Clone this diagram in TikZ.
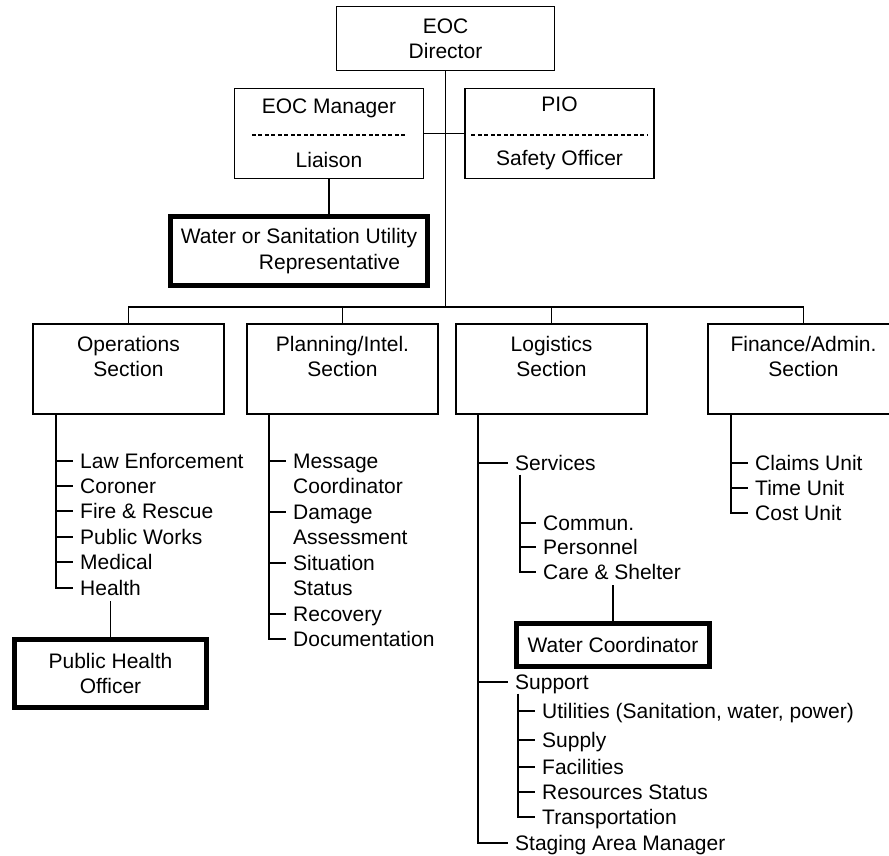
\documentclass[tikz,border=0pt]{standalone}
\usepackage{fontspec}
\setmainfont{Liberation Sans}
\usetikzlibrary{positioning,calc}
\tikzset{
    box/.style={draw,line width=1.2pt,align=center,inner sep=0pt},
    heavybox/.style={draw,line width=5pt,align=center,inner sep=0pt},
    secbox/.style={draw,line width=1.2pt,align=center,inner sep=0pt,minimum width=191pt,minimum height=90pt},
    item/.style={anchor=west,inner xsep=5pt,inner ysep=0pt,text height=15pt,text depth=0pt},
    link/.style={-,line width=1.6pt},
    tick/.style={-,line width=1.6pt,shorten >=2pt},
    sepline/.style={line width=1.4pt,dash pattern=on 4pt off 2.5pt},
}
\begin{document}
\begin{tikzpicture}[x=1pt,y=-1pt, every node/.style={font=\fontsize{21}{25.3}\selectfont}]
                \useasboundingbox (0,0) rectangle (889,856);
                \clip (0,0) rectangle (889,856);
% --- Top of the chart ---
                \node[box,minimum width=218pt,minimum height=64pt] (dir) at (445.5,38.5) {EOC\\Director};
                \node[box,minimum width=189pt,minimum height=90pt] (mgr) at (329,133.5) {EOC Manager\\[28.7pt]Liaison};
                \node[box,minimum width=189pt,minimum height=90pt] (pio) at (559.5,133.5) {PIO\\[28.7pt]Safety Officer};
                \draw[sepline] ([xshift=18pt,yshift=-1.5pt]mgr.west) -- ([xshift=-17pt,yshift=-1.5pt]mgr.east);
                \draw[sepline] ([xshift=7pt,yshift=-1.5pt]pio.west) -- ([xshift=-7pt,yshift=-1.5pt]pio.east);
                \node[heavybox,align=left,minimum width=257pt,minimum height=69pt] (util) at (299,251) {Water or Sanitation Utility\\\hspace*{78pt}Representative};
% Links at the top
                \coordinate (bus) at (445.5,307);
                \draw[link] (dir.south) -- (bus);
                \draw[link] (mgr.east) -- (pio.west);
                \draw[link] (mgr.south) -- (mgr.south |- util.north);
% --- Sections ---
                \node[secbox] (ops) at (128.5,369) {Operations\\Section\\\mbox{}};
                \node[secbox] (plan) at (342.5,369) {Planning/Intel.\\Section\\\mbox{}};
                \node[secbox] (logi) at (551.5,369) {Logistics\\Section\\\mbox{}};
                \node[secbox] (fin) at (803.5,369) {Finance/Admin.\\Section\\\mbox{}};
                \draw[link] (ops.north) |- (bus) -| (fin.north);
                \draw[link] (plan.north) -- (plan.north |- bus);
                \draw[link] (logi.north) -- (logi.north |- bus);
% --- Operations list ---
                \node[item] (law) at (75,461) {Law Enforcement};
                \node[item] (cor) at (75,486) {Coroner};
                \node[item] (fire) at (75,511) {Fire \& Rescue};
                \node[item] (pw) at (75,537) {Public Works};
                \node[item] (med) at (75,562) {Medical};
                \node[item] (hlth) at (75,588) {Health};
                \coordinate (opsx) at ([xshift=-72.5pt]ops.south);
                \draw[tick] (opsx) |- (hlth.west);
                \foreach \n in {law,cor,fire,pw,med} \draw[tick] (opsx |- \n.west) -- (\n.west);
                \node[heavybox,minimum width=192pt,minimum height=68pt] (pho) at (110.5,673.5) {Public Health\\Officer};
                \draw[link,shorten >=5pt] (pho.north) -- (pho.north |- hlth.south);
% --- Planning list ---
                \node[item] (msg) at (288,461) {Message};
                \node[item] (msgb) at (288,486) {Coordinator};
                \node[item] (dmg) at (288,512) {Damage};
                \node[item] (dmgb) at (288,537) {Assessment};
                \node[item] (sit) at (288,563) {Situation};
                \node[item] (sitb) at (288,588) {Status};
                \node[item] (rec) at (288,614) {Recovery};
                \node[item] (doc) at (288,639) {Documentation};
                \coordinate (planx) at ([xshift=-73.5pt]plan.south);
                \draw[tick] (planx) |- (doc.west);
                \foreach \n in {msg,dmg,sit,rec} \draw[tick] (planx |- \n.west) -- (\n.west);
% --- Logistics list ---
                \node[item] (serv) at (510,463) {Services};
                \node[item] (comm) at (538,523) {Commun.};
                \node[item] (pers) at (538,547) {Personnel};
                \node[item] (care) at (538,572) {Care \& Shelter};
                \node[heavybox,minimum width=193pt,minimum height=43pt] (wc) at (613,645) {Water Coordinator};
                \node[item] (supp) at (510,682) {Support};
                \node[item] (utl) at (537,711) {Utilities (Sanitation, water, power)};
                \node[item] (supl) at (537,740) {Supply};
                \node[item] (fac) at (537,767) {Facilities};
                \node[item] (res) at (537,792) {Resources Status};
                \node[item] (trans) at (537,817) {Transportation};
                \node[item] (stag) at (510,843) {Staging Area Manager};
                \coordinate (logx) at ([xshift=-73.5pt]logi.south);
                \draw[tick] (logx) |- (stag.west);
                \foreach \n in {serv,supp} \draw[tick] (logx |- \n.west) -- (\n.west);
                \coordinate (svx) at ([xshift=10pt,yshift=-4pt]serv.south west);
                \draw[tick] (svx) |- (care.west);
                \foreach \n in {comm,pers} \draw[tick] (svx |- \n.west) -- (\n.west);
                \draw[link,shorten >=5pt] (wc.north) -- (wc.north |- care.south);
                \coordinate (spx) at ([xshift=8pt,yshift=-4pt]supp.south west);
                \draw[tick] (spx) |- (trans.west);
                \foreach \n in {utl,supl,fac,res} \draw[tick] (spx |- \n.west) -- (\n.west);
% --- Finance list ---
                \node[item] (claim) at (750,463) {Claims Unit};
                \node[item] (timeu) at (750,488) {Time Unit};
                \node[item] (cost) at (750,513) {Cost Unit};
                \coordinate (finx) at ([xshift=-72.5pt]fin.south);
                \draw[tick] (finx) |- (cost.west);
                \foreach \n in {claim,timeu} \draw[tick] (finx |- \n.west) -- (\n.west);
            \end{tikzpicture}
\end{document}
